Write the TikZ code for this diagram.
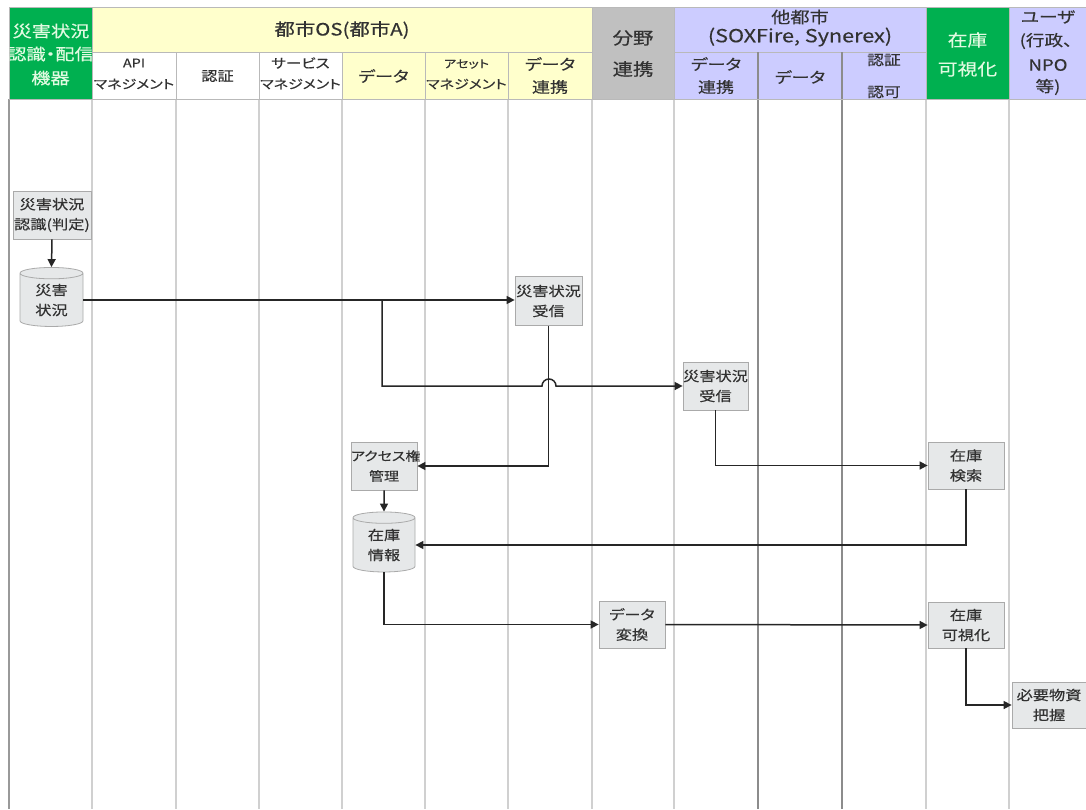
\documentclass[tikz,border=0pt]{standalone}
\usepackage{fontspec}
\setmainfont{Noto Sans CJK JP}[FakeStretch=1.2,FakeBold=0.3,RawFeature=+palt]
\usetikzlibrary{shapes.geometric,arrows.meta,calc}
\definecolor{hgreen}{RGB}{0,176,80}
\definecolor{htxtg}{RGB}{225,250,225}
\definecolor{hyel}{RGB}{255,255,204}
\definecolor{hgray}{RGB}{192,192,192}
\definecolor{hpur}{RGB}{204,204,255}
\definecolor{hline}{RGB}{185,185,185}
\definecolor{cline}{RGB}{208,208,208}
\definecolor{dline}{RGB}{140,140,140}
\definecolor{pfill}{RGB}{230,232,233}
\definecolor{pdraw}{RGB}{170,170,170}
\definecolor{txt}{RGB}{50,50,50}
\newcommand{\fs}[1]{\fontsize{#1}{1.3\dimexpr#1pt\relax}\selectfont}
\tikzset{
  cell/.style={draw=hline,line width=0.8pt},
  htext/.style={font=\fs{17},text=txt,inner sep=0pt,align=center},
  stext/.style={font=\fs{14},text=txt,inner sep=0pt,align=center},
  gtext/.style={font=\fs{16},text=htxtg,inner sep=0pt,align=center},
  proc/.style={rectangle,draw=pdraw,fill=pfill,line width=0.8pt,text=txt,
    font=\fontsize{13.5}{20}\selectfont,align=center,inner sep=0pt},
  store/.style={cylinder,shape border rotate=90,aspect=0.35,draw=pdraw,fill=pfill,
    line width=0.8pt,text=txt,font=\fontsize{13.5}{20}\selectfont,align=center,inner sep=0pt},
  conn/.style={line width=1.5pt,black!85},
  arr/.style={conn,-{Triangle[length=8pt,width=8pt]}},
  lane/.style={cline,line width=1.5pt},
  dlane/.style={dline,line width=1.8pt}
}
\begin{document}
\begin{tikzpicture}[x=1pt,y=-1pt]
\useasboundingbox (0,0) rectangle (1086,809);
\fill[white] (0,0) rectangle (1086,809);
% ---------- lanes ----------
\foreach \x in {92,176,259,342,425,508,592,674,926,1009}
  \draw[lane] (\x,99) -- (\x,809);
\draw[dlane] (758,52) -- (758,809);
\draw[dlane] (842,52) -- (842,809);
\draw[line width=1.5pt,black!40] (9,99) -- (9,809);
% ---------- header ----------
\filldraw[cell,fill=hgreen] (9,7) rectangle (92,99);
\filldraw[cell,fill=hyel] (92,7) rectangle (592,52);
\filldraw[cell,fill=white] (92,52) rectangle (176,99);
\filldraw[cell,fill=white] (176,52) rectangle (259,99);
\filldraw[cell,fill=white] (259,52) rectangle (342,99);
\filldraw[cell,fill=hyel] (342,52) rectangle (425,99);
\filldraw[cell,fill=hyel] (425,52) rectangle (508,99);
\filldraw[cell,fill=hyel] (508,52) rectangle (592,99);
\filldraw[cell,fill=hgray] (592,7) rectangle (674,99);
\filldraw[cell,fill=hpur] (674,7) rectangle (926,52);
\filldraw[cell,fill=hpur] (674,52) rectangle (758,99);
\filldraw[cell,fill=hpur] (758,52) rectangle (842,99);
\filldraw[cell,fill=hpur] (842,52) rectangle (926,99);
\filldraw[cell,fill=hgreen] (926,7) rectangle (1009,99);
\filldraw[cell,fill=hpur] (1009,7) rectangle (1086,99);
\draw[dlane] (758,52) -- (758,99);
\draw[dlane] (842,52) -- (842,99);
% header texts
\begin{scope}
\clip (9.5,7.5) rectangle (91.5,98.5);
\node[gtext] (hA1) at (51,31) {災害状況};
\node[gtext] (hA2) at (50.5,54) {認識・配信};
\node[gtext] (hA3) at (50.5,78) {機器};
\end{scope}
\node[htext] (hOS) at (342,30) {都市OS(都市A)};
\node[stext,font=\fs{12}] (hAPI1) at (134,63) {API};
\node[stext,font=\fs{12.5}] (hAPI2) at (134,84) {マネジメント};
\node[stext,font=\fs{13.5}] (hAuth) at (217.5,76) {認証};
\node[stext,font=\fs{13}] (hSvc1) at (300.5,63) {サービス};
\node[stext,font=\fs{12.5}] (hSvc2) at (300.5,84) {マネジメント};
\node[stext,font=\fs{15}] (hData) at (383.5,76) {データ};
\node[stext,font=\fs{11}] (hAsset1) at (466.5,64) {アセット};
\node[stext,font=\fs{12.5}] (hAsset2) at (466.5,84) {マネジメント};
\node[stext,font=\fs{15}] (hLink1) at (550,64) {データ};
\node[stext,font=\fs{15}] (hLink2) at (550,87) {連携};
\node[htext] (hF1) at (633,38) {分野};
\node[htext] (hF2) at (633,69) {連携};
\node[htext,font=\fs{16}] (hO1) at (800,17) {他都市};
\node[htext,font=\fs{18}] (hO2) at (800,37) {(SOXFire, Synerex)};
\node[stext,font=\fs{15}] (hOL1) at (716,64) {データ};
\node[stext,font=\fs{15}] (hOL2) at (716,87) {連携};
\node[stext,font=\fs{15}] (hOD) at (800,77) {データ};
\node[stext,font=\fs{14}] (hOA1) at (884,60) {認証};
\node[stext,font=\fs{14}] (hOA2) at (884,92) {認可};
\node[gtext,font=\fs{16.5}] (hV1) at (967.5,40) {在庫};
\node[gtext,font=\fs{16.5}] (hV2) at (967.5,69) {可視化};
\node[htext,font=\fs{15.5}] (hU1) at (1048,17) {ユーザ};
\node[htext,font=\fs{15.5}] (hU2) at (1046,41) {(行政、};
\node[htext,font=\fs{15.5}] (hU3) at (1048,65) {NPO};
\node[htext,font=\fs{15.5}] (hU4) at (1048,87) {等)};
% ---------- process nodes ----------
\node[proc,minimum width=78pt,minimum height=48pt] (judge) at (52,215) {災害状況\\認識(判定)};
\node[store,minimum width=63pt,minimum height=59pt] (dis) at (51.5,300) {災害\\状況};
\node[proc,minimum width=67pt,minimum height=49pt] (recv1) at (548.5,301) {災害状況\\受信};
\node[proc,minimum width=65pt,minimum height=48pt] (recv2) at (715.5,386) {災害状況\\受信};
\node[proc,text width=66pt,minimum height=48pt,font=\fontsize{12.5}{20}\selectfont] (acc) at (384,466) {アクセス権\\管理};
\node[store,minimum width=62pt,minimum height=60pt] (stock) at (384,545) {在庫\\情報};
\node[proc,minimum width=76pt,minimum height=47pt] (search) at (966,465.5) {在庫\\検索};
\node[proc,minimum width=66pt,minimum height=47pt] (conv) at (632,624.5) {データ\\変換};
\node[proc,minimum width=76pt,minimum height=46pt] (vis) at (966,625) {在庫\\可視化};
\node[proc,minimum width=74pt,minimum height=46pt] (need) at (1049,705) {必要物資\\把握};
% ---------- connectors ----------
\coordinate (br) at (382,300);
\coordinate (brd) at (382,386);
\coordinate (hopL) at (542,386);
\draw[arr] (judge.south) -- (dis.north);
\draw[arr] (dis.east |- br) -- (recv1.west |- br);
\draw[arr] (br) -- (brd) -- (hopL) arc (180:360:7) -- (recv2.west);
\draw[arr] (recv1.south) |- (acc.east);
\draw[arr] (acc.south) -- (stock.north);
\draw[arr] (recv2.south) |- (search.west);
\draw[arr] (search.south) |- (stock.east);
\draw[arr] (stock.south) |- (conv.west);
\draw[arr] (conv.east) -- (vis.west);
\draw[arr] (vis.south) |- (need.west);
\end{tikzpicture}
\end{document}
